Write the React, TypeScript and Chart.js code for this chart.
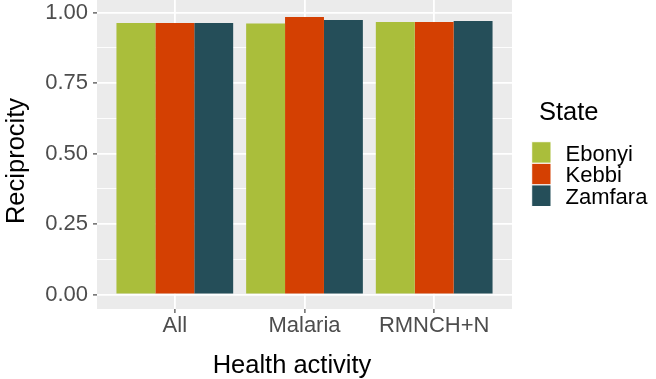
import React, { useEffect, useRef } from "react";
import { Chart, registerables } from "chart.js";

Chart.register(...registerables);

const categories = ["All", "Malaria", "RMNCH+N"];
const states = ["Ebonyi", "Kebbi", "Zamfara"];
const ebonyi = [0.963, 0.961, 0.966];
const kebbi = [0.963, 0.984, 0.966];
const zamfara = [0.963, 0.973, 0.97];
const colors = ["#AABE3B", "#D44002", "#254E59"];
const yTicks = [0, 0.125, 0.25, 0.375, 0.5, 0.625, 0.75, 0.875, 1];
const yMajor = [0, 0.25, 0.5, 0.75, 1];

const FONT = "'Liberation Sans', Arial, Helvetica, sans-serif";

export default function App() {
  const ref = useRef<HTMLCanvasElement | null>(null);

  useEffect(() => {
    document.body.style.margin = "0";
    const canvas = ref.current;
    if (!canvas) return;
    Chart.defaults.font.family = FONT;

    const series = [ebonyi, kebbi, zamfara];

    const panelPlugin = {
      id: "panelBg",
      beforeDraw(chart: any) {
        const { ctx, chartArea } = chart;
        ctx.save();
        ctx.fillStyle = "#EBEBEB";
        ctx.fillRect(chartArea.left, chartArea.top, chartArea.right - chartArea.left, chartArea.bottom - chartArea.top);
        ctx.restore();
      },
      afterDraw(chart: any) {
        const { ctx } = chart;
        ctx.save();
        // axis titles
        ctx.fillStyle = "#000000";
        ctx.font = `25.5px ${FONT}`;
        ctx.textAlign = "center";
        ctx.textBaseline = "alphabetic";
        ctx.fillText("Health activity", 292, 373);
        ctx.save();
        ctx.translate(24, 161);
        ctx.rotate(-Math.PI / 2);
        ctx.fillText("Reciprocity", 0, 0);
        ctx.restore();
        // legend
        ctx.textAlign = "left";
        ctx.fillText("State", 539, 120);
        const keyX = 531.7;
        const keyW = 19.3;
        const keyH = 21.6;
        const keyTop = 141.7;
        ctx.font = `22px ${FONT}`;
        chart.data.datasets.forEach((ds: any, i: number) => {
          const y = keyTop + i * keyH;
          ctx.fillStyle = ds.backgroundColor;
          ctx.fillRect(keyX, y, keyW, keyH);
          ctx.strokeStyle = "#FFFFFF";
          ctx.lineWidth = 1;
          ctx.strokeRect(keyX, y, keyW, keyH);
          ctx.fillStyle = "#000000";
          ctx.fillText(ds.label, 565.5, y + keyH / 2 + 8);
        });
        ctx.restore();
      },
    };

    const chart = new Chart(canvas, {
      type: "bar",
      data: {
        datasets: states.map((s, si) => ({
          label: s,
          data: categories.map((c, i) => ({ x: i + 1, y: series[si][i] })),
          backgroundColor: colors[si],
          borderWidth: 0,
          categoryPercentage: 0.9,
          barPercentage: 1,
        })),
      },
      options: {
        responsive: false,
        animation: false,
        devicePixelRatio: 1,
        layout: { padding: { left: 0, right: 144, top: 0, bottom: 0 } },
        plugins: { legend: { display: false }, tooltip: { enabled: false }, title: { display: false } },
        scales: {
          x: {
            type: "linear",
            min: 0.4,
            max: 3.6,
            offset: false,
            afterBuildTicks: (scale: any) => {
              scale.ticks = categories.map((c, i) => ({ value: i + 1 }));
            },
            afterFit: (scale: any) => {
              scale.height = 70;
              scale.paddingLeft = 0;
              scale.paddingRight = 0;
            },
            border: { display: false },
            grid: {
              offset: false,
              color: "#FFFFFF",
              lineWidth: 1.8,
              drawTicks: true,
              tickLength: 4,
              tickColor: "#333333",
              tickWidth: 1.1,
            },
            ticks: {
              padding: 0,
              color: "#4D4D4D",
              font: { size: 22, family: FONT },
              maxRotation: 0,
              autoSkip: false,
              callback: (v: any) => categories[Math.round(Number(v)) - 1] ?? "",
            },
          },
          y: {
            type: "linear",
            min: -0.0514,
            max: 1.0443,
            afterBuildTicks: (scale: any) => {
              scale.ticks = yTicks.map((v) => ({ value: v }));
            },
            afterFit: (scale: any) => {
              scale.width = 97;
              scale.paddingTop = 0;
              scale.paddingBottom = 0;
            },
            border: { display: false },
            grid: {
              color: "#FFFFFF",
              lineWidth: (ctx: any) => (yMajor.includes(ctx.tick?.value) ? 1.8 : 0.9),
              drawTicks: true,
              tickLength: 4,
              tickColor: (ctx: any) => (yMajor.includes(ctx.tick?.value) ? "#333333" : "rgba(0,0,0,0)"),
              tickWidth: 1.1,
            },
            ticks: {
              padding: 5,
              color: "#4D4D4D",
              font: { size: 22, family: FONT },
              autoSkip: false,
              callback: (v: any) => (yMajor.includes(Number(v)) ? Number(v).toFixed(2) : ""),
            },
          },
        },
      },
      plugins: [panelPlugin],
    } as any);

    return () => chart.destroy();
  }, []);

  return <canvas ref={ref} width={656} height={379} style={{ display: "block" }} />;
}
